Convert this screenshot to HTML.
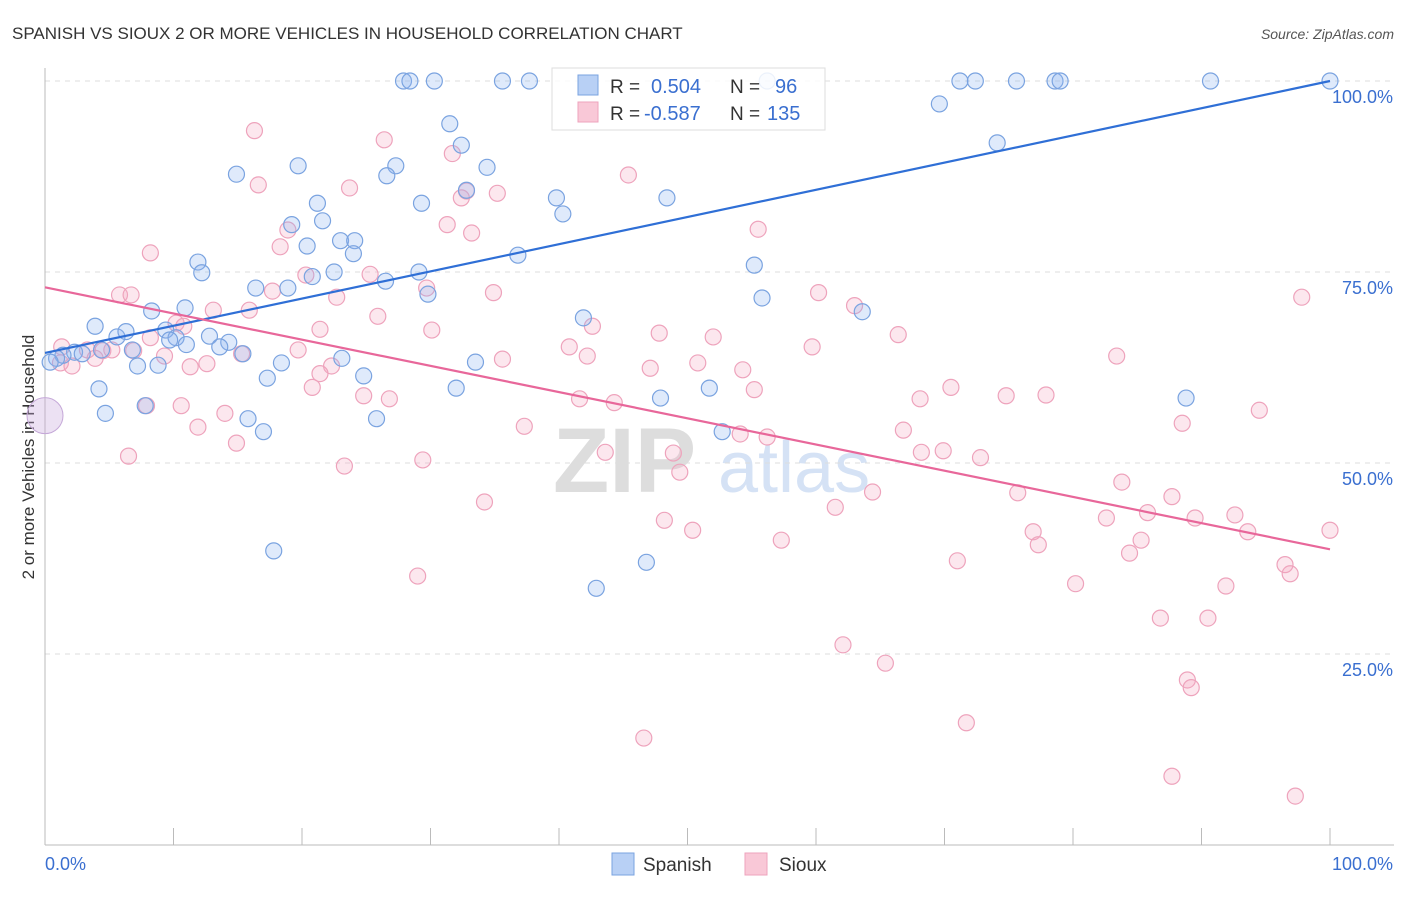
<!DOCTYPE html>
<html><head><meta charset="utf-8"><style>
body{margin:0;background:#fff;font-family:"Liberation Sans",sans-serif;}
svg text{font-family:"Liberation Sans",sans-serif;}
</style></head><body>
<svg id="chart" width="1406" height="892" xmlns="http://www.w3.org/2000/svg">
<text x="12" y="39" font-size="17" fill="#333">SPANISH VS SIOUX 2 OR MORE VEHICLES IN HOUSEHOLD CORRELATION CHART</text>
<text x="1394" y="39" font-size="14" fill="#555" text-anchor="end" font-style="italic">Source: ZipAtlas.com</text>
<text transform="translate(34,457) rotate(-90)" font-size="17" fill="#333" text-anchor="middle">2 or more Vehicles in Household</text>
<g>
<text x="553" y="492" font-size="92" fill="#ddd" font-family="Liberation Serif" font-weight="bold">ZIP</text>
<text x="718" y="492" font-size="72" fill="#d5e2f5">atlas</text>
</g>
<g id="grid"></g><g id="axes"></g><g id="pinkPts"></g><g id="bluePts"></g><g id="lines"></g>
<g>
<rect x="552" y="68" width="273" height="62" fill="#fff" fill-opacity="0.85" stroke="#ddd"/>
<rect x="578" y="75" width="20" height="20" fill="#b8d0f5" stroke="#7aa3e0"/>
<rect x="578" y="102" width="20" height="20" fill="#f9c8d7" stroke="#eea3bc"/>
<text x="610" y="93" font-size="19" fill="#333">R =</text>
<text x="651" y="93" font-size="20" fill="#3a6fd0">0.504</text>
<text x="730" y="93" font-size="19" fill="#333">N =</text>
<text x="775" y="93" font-size="20" fill="#3a6fd0">96</text>
<text x="610" y="120" font-size="19" fill="#333">R =</text>
<text x="644" y="120" font-size="20" fill="#3a6fd0">-0.587</text>
<text x="730" y="120" font-size="19" fill="#333">N =</text>
<text x="767" y="120" font-size="20" fill="#3a6fd0">135</text>
</g>
<g>
<rect x="612" y="853" width="22" height="22" fill="#b8d0f5" stroke="#7aa3e0"/>
<text x="643" y="871" font-size="19" fill="#333">Spanish</text>
<rect x="745" y="853" width="22" height="22" fill="#f9c8d7" stroke="#eea3bc"/>
<text x="779" y="871" font-size="19" fill="#333">Sioux</text>
</g>
</svg>
<script>
const blueX=[27.9,28.4,30.3,35.6,37.7,56.2,71.2,72.4,75.6,78.6,79.0,90.7,100,69.6,31.5,32.4,74.1,14.9,19.7,27.3,34.4,26.6,32.8,39.8,29.3,21.2,40.3,48.4,19.2,21.6,20.4,23.0,24.1,24.0,36.8,11.9,12.2,22.5,20.8,29.1,26.5,55.2,16.4,18.9,29.8,55.8,8.3,10.9,63.6,3.9,5.6,6.3,9.4,10.2,12.8,9.7,11.0,14.3,13.6,41.9,6.8,4.4,2.3,2.9,1.4,0.9,15.4,23.1,0.4,7.2,8.8,18.4,33.5,17.3,24.8,4.2,32.0,51.7,88.8,7.8,4.7,15.8,25.8,17.0,47.9,52.7,17.8,46.8,42.9];
const blueY=[100,100,100,100,100,100,100,100,100,100,100,100,100,97.0,94.4,91.6,91.9,87.8,88.9,88.9,88.7,87.6,85.7,84.7,84.0,84.0,82.6,84.7,81.2,81.7,78.4,79.1,79.1,77.4,77.2,76.3,74.9,75.0,74.4,75.0,73.8,75.9,72.9,72.9,72.1,71.6,69.9,70.3,69.8,67.9,66.5,67.2,67.4,66.4,66.6,66.1,65.5,65.8,65.2,69.0,64.8,64.8,64.5,64.3,64.1,63.7,64.3,63.7,63.2,62.7,62.8,63.1,63.2,61.1,61.4,59.7,59.8,59.8,58.5,57.5,56.5,55.8,55.8,54.1,58.5,54.1,38.5,37.0,33.6];
const pinkX=[16.3,26.4,31.7,16.6,45.4,23.7,35.2,32.4,32.8,31.3,33.2,55.5,18.9,18.3,8.2,20.3,25.3,5.8,6.7,17.7,22.7,29.7,34.9,60.2,63.0,97.8,13.1,15.9,10.2,10.8,21.4,25.9,30.1,42.6,47.8,52.0,66.4,59.7,1.3,3.3,4.5,5.2,6.9,8.2,9.3,1.2,2.1,3.9,11.3,12.6,15.3,19.7,22.3,21.4,35.6,40.8,42.2,47.1,50.8,54.3,83.4,20.8,24.8,26.8,41.6,44.3,55.2,68.1,70.5,74.8,77.9,88.5,94.5,7.9,10.6,11.9,14.0,37.3,54.1,56.2,66.8,14.9,6.5,23.3,29.4,43.6,48.9,68.2,69.9,72.8,75.7,83.8,87.7,49.4,64.4,34.2,61.5,82.6,85.8,89.5,92.6,48.2,50.4,93.6,100,57.3,76.9,77.3,85.3,84.4,71.0,96.5,96.9,80.2,91.9,29.0,86.8,90.5,62.1,65.4,88.9,89.2,71.7,46.6,87.7,97.3];
const pinkY=[93.5,92.3,90.5,86.4,87.7,86.0,85.3,84.7,85.6,81.2,80.1,80.6,80.5,78.3,77.5,74.6,74.7,72.0,72.0,72.5,71.7,72.9,72.3,72.3,70.6,71.7,70.0,70.0,68.3,67.9,67.5,69.2,67.4,67.9,67.0,66.5,66.8,65.2,65.2,64.8,64.7,64.8,64.7,66.4,64.0,63.1,62.7,63.7,62.6,63.0,64.3,64.8,62.7,61.7,63.6,65.2,64.0,62.4,63.1,62.2,64.0,59.9,58.8,58.4,58.4,57.9,59.6,58.4,59.9,58.8,58.9,55.2,56.9,57.5,57.5,54.7,56.5,54.8,53.8,53.4,54.3,52.6,50.9,49.6,50.4,51.4,51.3,51.4,51.6,50.7,46.1,47.5,45.6,48.8,46.2,44.9,44.2,42.8,43.5,42.8,43.2,42.5,41.2,41.0,41.2,39.9,41.0,39.3,39.9,38.2,37.2,36.7,35.5,34.2,33.9,35.2,29.7,29.7,26.2,23.8,21.6,20.6,16.0,14.0,9.0,6.4];
const bigPoint=[0,56.2];
const blueTrend=[64.4,100];
const pinkTrend=[73.0,38.7];
const yTicks=[25,50,75,100];
const yTickLabels=["25.0%","50.0%","75.0%","100.0%"];
const xTicks=[0,10,20,30,40,50,60,70,80,90,100];

const NS="http://www.w3.org/2000/svg";
const X=v=>45+v*12.85;
const Y=v=>845-v*7.64;
function mk(tag,attrs,parent){const e=document.createElementNS(NS,tag);for(const k in attrs)e.setAttribute(k,attrs[k]);parent.appendChild(e);return e;}
const grid=document.getElementById('grid'),axes=document.getElementById('axes');
yTicks.forEach((t,i)=>{
  const l=mk('line',{x1:45,x2:1394,y1:Y(t),y2:Y(t),stroke:'#ddd','stroke-dasharray':'5,5'},grid);
  
  
  const tx=mk('text',{x:1393,y:Y(t)+22,'font-size':18,fill:'#3a6fd0','text-anchor':'end'},axes);
  tx.textContent=yTickLabels[i];
  
  
});
const ax=mk('line',{x1:45,x2:1394,y1:845,y2:845,stroke:'#bbb'},axes);


const ay=mk('line',{x1:45,x2:45,y1:68,y2:845,stroke:'#bbb'},axes);


xTicks.forEach(t=>{
  const l=mk('line',{x1:X(t),x2:X(t),y1:828,y2:845,stroke:'#bbb'},axes);
  
  
});
const xl0=mk('text',{x:45,y:870,'font-size':18,fill:'#3a6fd0'},axes);xl0.textContent='0.0%';


const xl1=mk('text',{x:1393,y:870,'font-size':18,fill:'#3a6fd0','text-anchor':'end'},axes);xl1.textContent='100.0%';


function pts(xs,ys,g,fill,stroke,name){
  xs.forEach((x,i)=>{
    const c=mk('circle',{cx:X(x),cy:Y(ys[i]),r:8,fill:fill,stroke:stroke,'stroke-width':1.2},g);
    
    
  });
}
const pg=document.getElementById('pinkPts'),bg=document.getElementById('bluePts');
pts(pinkX,pinkY,pg,'rgba(245,170,195,0.28)','#eea3bc','sioux-point');
pts(blueX,blueY,bg,'rgba(140,180,240,0.28)','#7aa3e0','spanish-point');
const bp=mk('circle',{cx:X(bigPoint[0]),cy:Y(bigPoint[1]),r:18,fill:'rgba(200,170,220,0.35)',stroke:'#c5a8d8'},bg);


const lg=document.getElementById('lines');
const bl=mk('line',{x1:X(0),y1:Y(blueTrend[0]),x2:X(100),y2:Y(blueTrend[1]),stroke:'#2f6fd6','stroke-width':2.2},lg);


const pl=mk('line',{x1:X(0),y1:Y(pinkTrend[0]),x2:X(100),y2:Y(pinkTrend[1]),stroke:'#e8679a','stroke-width':2.2},lg);


</script>
</body></html>
